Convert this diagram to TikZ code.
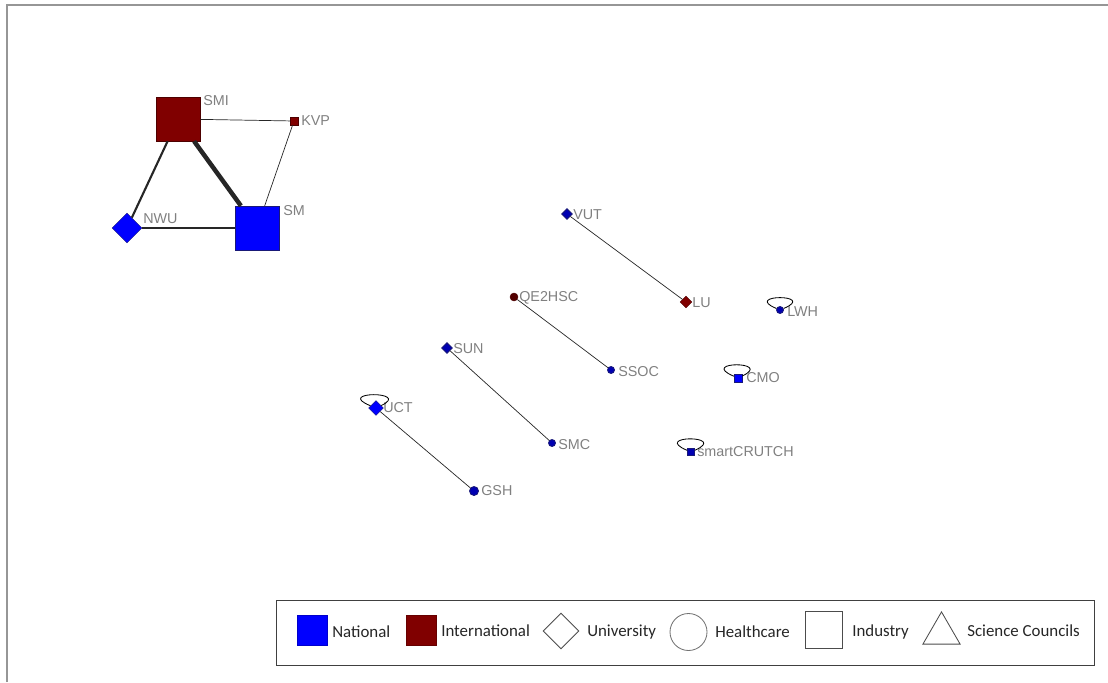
\documentclass[tikz,border=0pt]{standalone}
\usepackage{fontspec}
\setmainfont{Liberation Sans}
\newfontfamily\legendfont{Carlito}
\usetikzlibrary{shapes.geometric, positioning}

\definecolor{natblue}{RGB}{0,0,255}
\definecolor{intred}{RGB}{128,0,0}
\definecolor{lblgray}{RGB}{128,128,128}
\definecolor{rimnavy}{RGB}{25,25,120}
\definecolor{framegray}{RGB}{150,150,150}

\begin{document}
\begin{tikzpicture}[x=0.025cm, y=0.025cm,
    nat/.style={fill=natblue, draw=rimnavy, line width=0.3pt, inner sep=0pt},
    intl/.style={fill=intred, draw=intred!60!black, line width=0.3pt, inner sep=0pt},
    small/.style={fill=natblue!70!black, line width=0.6pt},
    sq/.style={rectangle, minimum size=0.025cm*#1},
    dia/.style={diamond, minimum size=0.025cm*#1},
    dot/.style={circle, minimum size=0.025cm*#1},
    lbl/.style={anchor=west, text=lblgray, inner sep=0pt, font=\fontsize{10.2}{12}\selectfont},
    tie/.style={draw=black!85, line width=0.5pt},
    selfloop/.style={draw=black, line width=0.6pt},
    legtext/.style={anchor=west, inner sep=0pt, text=black!85, font=\legendfont\fontsize{12}{14}\selectfont},
    legsym/.style={draw=black!70, line width=0.6pt, inner sep=0pt}
]
\useasboundingbox (0,0) rectangle (1108,-682);

% Frame
\draw[framegray, line width=1.4pt] (7,-682) -- (7,-5) -- (1108,-5);

% Nodes
\node[intl, sq=44] (smi) at (178,-119) {};
\node[intl, sq=8] (kvp) at (294,-121) {};
\node[nat, sq=44] (sm) at (257,-228) {};
\node[nat, dia=30] (nwu) at (127,-228) {};
\node[nat, small, dia=11] (vut) at (567,-214) {};
\node[intl, dia=12] (lu) at (686,-302) {};
\node[intl, dot=8, fill=intred!65!black] (qe2hsc) at (514,-297) {};
\node[nat, small, dot=7] (ssoc) at (611,-370) {};
\node[nat, small, dia=11] (sun) at (447,-348) {};
\node[nat, small, dot=7] (smc) at (552,-443) {};
\node[nat, dia=15] (uct) at (376,-408) {};
\node[nat, small, dot=9] (gsh) at (474,-491) {};
\node[nat, small, dot=7] (lwh) at (780,-310) {};
\node[nat, sq=8] (cmo) at (738,-378) {};
\node[nat, small, sq=7] (crutch) at (691,-452) {};

% Labels
\node[lbl] (smiTxt) at (203,-101) {SMI};
\node[lbl] (kvpTxt) at (301,-121) {KVP};
\node[lbl] (smTxt) at (283,-211) {SM};
\node[lbl] (nwuTxt) at (143,-219) {NWU};
\node[lbl] (vutTxt) at (573,-215) {VUT};
\node[lbl] (luTxt) at (692,-303) {LU};
\node[lbl] (qe2hscTxt) at (519,-298) {QE2HSC};
\node[lbl] (ssocTxt) at (618,-372) {SSOC};
\node[lbl] (sunTxt) at (453,-349) {SUN};
\node[lbl] (smcTxt) at (558,-445) {SMC};
\node[lbl] (uctTxt) at (383,-408) {UCT};
\node[lbl] (gshTxt) at (481,-491) {GSH};
\node[lbl] (lwhTxt) at (787,-312) {LWH};
\node[lbl] (cmoTxt) at (746,-378) {CMO};
\node[lbl] (crutchTxt) at (697,-452) {smartCRUTCH};

% Ties
\draw[tie] (smi) -- (kvp);
\draw[tie] (kvp) -- (sm);
\draw[tie, line width=3.2pt] (smi) -- (sm);
\draw[tie, line width=1.5pt] (smi) -- (nwu);
\draw[tie, line width=1.5pt] (nwu) -- (sm);
\draw[tie] (vut) -- (lu);
\draw[tie] (qe2hsc) -- (ssoc);
\draw[tie] (sun) -- (smc);
\draw[tie] (uct) -- (gsh);

% Self ties
\draw[selfloop] (uct) .. controls +(-42,17) and +(36,17) .. (uct);
\draw[selfloop] (lwh) .. controls +(-38,16) and +(38,16) .. (lwh);
\draw[selfloop] (cmo) .. controls +(-40,17) and +(36,17) .. (cmo);
\draw[selfloop] (crutch) .. controls +(-40,17) and +(38,17) .. (crutch);

% Legend
\node[draw=black!75, line width=0.7pt, minimum width=818*0.025cm, minimum height=65*0.025cm, inner sep=0pt] (legend) at (685,-632.5) {};
\node[sq=30, fill=natblue, draw=natblue!80!black, line width=0.3pt, inner sep=0pt] (kNat) at (312,-630.5) {};
\node[legtext] (kNatTxt) at (332,-632) {National};
\node[sq=30, fill=intred, draw=intred!80!black, line width=0.3pt, inner sep=0pt] (kInt) at (421.5,-630.5) {};
\node[legtext] (kIntTxt) at (441,-631) {International};
\node[legsym, dia=36] (kUni) at (561,-631) {};
\node[legtext] (kUniTxt) at (587,-632) {University};
\node[legsym, dot=37, draw=black!55] (kHealth) at (688.5,-632) {};
\node[legtext] (kHealthTxt) at (715,-632) {Healthcare};
\node[legsym, sq=37] (kInd) at (823.5,-630) {};
\node[legtext] (kIndTxt) at (852,-632) {Industry};
\node[legsym, regular polygon, regular polygon sides=3, minimum size=0.025cm*43] (kSci) at (941.5,-633.4) {};
\node[legtext] (kSciTxt) at (967,-631) {Science Councils};

\end{tikzpicture}
\end{document}
